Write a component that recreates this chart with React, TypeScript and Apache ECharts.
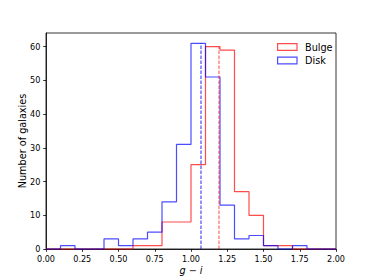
import React, { useEffect, useRef } from "react";
import * as echarts from "echarts";

const binEdges = [0, 0.1, 0.2, 0.3, 0.4, 0.5, 0.6, 0.7, 0.8, 0.9, 1.0, 1.1, 1.2, 1.3, 1.4, 1.5, 1.6, 1.7, 1.8, 1.9, 2.0];
const bulgeCounts = [0, 0, 0, 0, 0, 0, 1, 1, 8, 8, 25, 60, 59, 17, 10, 1, 1, 0, 0, 0];
const diskCounts = [0, 1, 0, 0, 3, 1, 3, 5, 14, 31, 61, 51, 13, 3, 4, 1, 0, 1, 0, 0];
const bulgeMean = 1.193;
const diskMean = 1.069;
const xTicks = [0, 0.25, 0.5, 0.75, 1.0, 1.25, 1.5, 1.75, 2.0];
const yTicks = [0, 10, 20, 30, 40, 50, 60];

const RED = "rgba(255,0,0,0.7)";
const BLUE = "rgba(0,0,255,0.7)";
const FONT = "DejaVu Sans";

function stepData(counts: number[]) {
  const pts: number[][] = [[binEdges[0], 0]];
  counts.forEach((c, i) => pts.push([binEdges[i], c]));
  const last = counts[counts.length - 1];
  pts.push([binEdges[binEdges.length - 1], last]);
  pts.push([binEdges[binEdges.length - 1], 0]);
  return pts;
}

export default function App() {
  const ref = useRef<HTMLDivElement>(null);
  useEffect(() => {
    const chart = echarts.init(ref.current!, null, { renderer: "svg" });
    const yMax = Math.max(...bulgeCounts, ...diskCounts) * 1.05;
    chart.setOption({
      animation: false,
      grid: {
        left: 46,
        right: 38,
        top: 33,
        bottom: 31,
        show: true,
        borderColor: "#000",
        borderWidth: 0.8,
        backgroundColor: "transparent",
      },
      legend: {
        orient: "vertical",
        left: 272,
        top: 36,
        itemWidth: 19.4,
        itemHeight: 6.8,
        itemGap: 1.5,
        textStyle: { fontFamily: FONT, fontSize: 9.7, color: "#000", lineHeight: 12, padding: [0, 0, 0, 3] },
        data: [
          { name: "Bulge", icon: "rect", itemStyle: { color: "rgba(0,0,0,0)", borderColor: RED, borderWidth: 1.2 } },
          { name: "Disk", icon: "rect", itemStyle: { color: "rgba(0,0,0,0)", borderColor: BLUE, borderWidth: 1.2 } },
        ],
      },
      xAxis: {
        type: "value",
        min: 0,
        max: 2,
        interval: 0.25,
        name: "g − i",
        nameLocation: "middle",
        nameGap: 16,
        nameMoveOverlap: false,
        nameTextStyle: { fontFamily: FONT, fontSize: 9.7, color: "#000", fontStyle: "italic" },
        axisLine: { show: true, onZero: false, lineStyle: { color: "#000", width: 0.8 } },
        axisTick: { show: true, inside: false, length: 2.8, lineStyle: { color: "#000", width: 0.8 } },
        axisLabel: {
          margin: 5.6,
          fontFamily: FONT,
          fontSize: 8.1,
          color: "#000",
          formatter: (v: number) => v.toFixed(2),
          customValues: xTicks,
        },
        splitLine: { show: false },
      },
      yAxis: {
        type: "value",
        min: 0,
        max: yMax,
        name: "Number of galaxies",
        nameLocation: "middle",
        nameRotate: 90,
        nameGap: 19,
        nameMoveOverlap: false,
        nameTextStyle: { fontFamily: FONT, fontSize: 9.7, color: "#000" },
        axisLine: { show: true, lineStyle: { color: "#000", width: 0.8 } },
        axisTick: { show: true, inside: false, length: 2.8, lineStyle: { color: "#000", width: 0.8 }, customValues: yTicks },
        axisLabel: { margin: 5.6, fontFamily: FONT, fontSize: 8.1, color: "#000", customValues: yTicks },
        splitLine: { show: false },
      },
      series: [
        {
          name: "Bulge",
          type: "line",
          step: "end",
          data: stepData(bulgeCounts),
          symbol: "none",
          clip: false,
          lineStyle: { color: RED, width: 1.2 },
          itemStyle: { color: RED },
        },
        {
          name: "Disk",
          type: "line",
          step: "end",
          data: stepData(diskCounts),
          symbol: "none",
          clip: false,
          lineStyle: { color: BLUE, width: 1.2 },
          itemStyle: { color: BLUE },
        },
        {
          name: "bulgeMean",
          type: "line",
          data: [[bulgeMean, 0], [bulgeMean, Math.max(...bulgeCounts)]],
          symbol: "none",
          silent: true,
          lineStyle: { color: RED, width: 1, type: [3.5, 1.5] },
        },
        {
          name: "diskMean",
          type: "line",
          data: [[diskMean, 0], [diskMean, Math.max(...diskCounts)]],
          symbol: "none",
          silent: true,
          lineStyle: { color: "rgba(0,0,255,0.85)", width: 1, type: [3.5, 1.5] },
        },
      ],
    });
    return () => chart.dispose();
  }, []);
  return (
    <div
      ref={ref}
      style={{ position: "fixed", left: 0, top: 0, width: 374, height: 280, background: "#fff" }}
    />
  );
}
